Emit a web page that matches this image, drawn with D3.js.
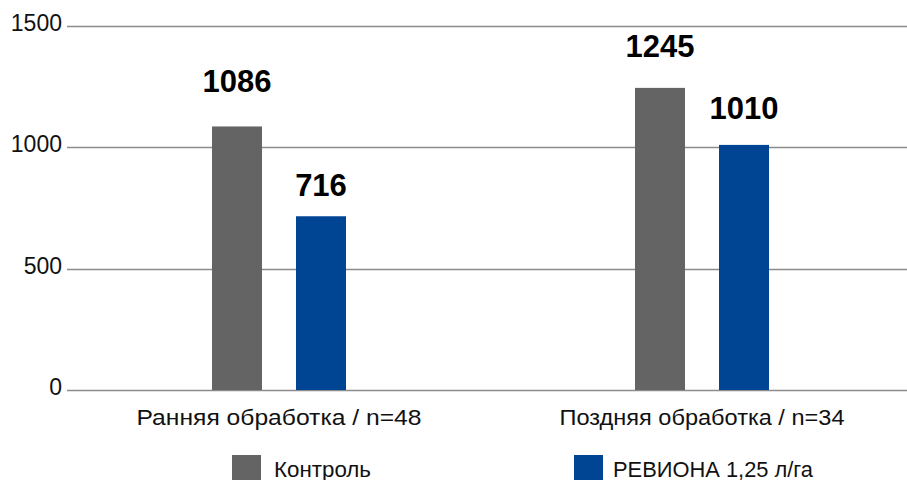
<!DOCTYPE html>
<html>
<head>
<meta charset="utf-8">
<script src="https://cdn.jsdelivr.net/npm/d3@7"></script>
<style>
  html, body { margin: 0; padding: 0; background: #fff; }
  svg { display: block; font-family: "Liberation Sans", Arial, Helvetica, sans-serif; }
</style>
</head>
<body>
<svg id="chart" width="907" height="480"></svg>
<script>
// Chart data
const categories = ["Ранняя обработка / n=48", "Поздняя обработка / n=34"];
const seriesNames = ["Контроль", "РЕВИОНА 1,25 л/га"];
const controlValues = [1086, 1245];
const revionaValues = [716, 1010];
const yTicks = [0, 500, 1000, 1500];

// Styling / layout
const colors = ["#646464", "#004494"];
// distance between a bar top and its value label baseline, per series / category
const labelGap = [[34, 31], [20, 26]];
// rendered widths of the category and legend captions
const categoryWidth = 285;
const legendWidths = [97, 200];

const svg = d3.select("#chart");
const W = 907;
const plotLeft = 67.5, plotRight = 913.5, plotTop = 26, plotBottom = 390;

const values = [controlValues, revionaValues];

const y = d3.scaleLinear().domain([0, 1500]).range([plotBottom, plotTop]);
const x0 = d3.scaleBand().domain(categories).range([plotLeft, plotRight]).padding(0);
const x1 = d3.scaleBand().domain(seriesNames).range([-67, 67]).paddingInner(0.405).paddingOuter(0);

// gridlines
svg.append("g").selectAll("line").data(yTicks).join("line")
  .attr("x1", 67).attr("x2", W)
  .attr("y1", d => Math.round(y(d)) + 0.5).attr("y2", d => Math.round(y(d)) + 0.5)
  .attr("stroke", "#8c8c8c").attr("stroke-width", 1.4);

// y axis labels
svg.append("g").selectAll("text").data(yTicks).join("text")
  .attr("x", 62).attr("y", d => y(d) + 5)
  .attr("text-anchor", "end")
  .attr("font-size", 23).attr("fill", "#111")
  .text(d => d);

// bars and value labels
const groups = svg.append("g").selectAll("g").data(categories).join("g")
  .attr("transform", c => `translate(${x0(c) + x0.bandwidth() / 2},0)`);

groups.each(function (c, ci) {
  const g = d3.select(this);
  seriesNames.forEach((s, si) => {
    const v = values[si][ci];
    g.append("rect")
      .attr("x", x1(s)).attr("width", x1.bandwidth())
      .attr("y", y(v)).attr("height", y(0) - y(v))
      .attr("fill", colors[si]);
    g.append("text")
      .attr("x", x1(s) + x1.bandwidth() / 2)
      .attr("y", y(v) - labelGap[si][ci])
      .attr("text-anchor", "middle")
      .attr("font-size", 31).attr("font-weight", "bold").attr("fill", "#000")
      .text(v);
  });
});

// category labels
svg.append("g").selectAll("text").data(categories).join("text")
  .attr("x", c => x0(c) + x0.bandwidth() / 2)
  .attr("y", 424.5)
  .attr("text-anchor", "middle")
  .attr("font-size", 22).attr("fill", "#111")
  .attr("textLength", categoryWidth).attr("lengthAdjust", "spacingAndGlyphs")
  .text(c => c);

// legend
const legendX = [232, 574];
const legend = svg.append("g").selectAll("g").data(seriesNames).join("g")
  .attr("transform", (d, i) => `translate(${legendX[i]},455)`);
legend.append("rect").attr("width", 29).attr("height", 25).attr("fill", (d, i) => colors[i]);
legend.append("text").attr("x", (d, i) => i === 0 ? 42 : 39).attr("y", 21.5)
  .attr("font-size", 22).attr("fill", "#111")
  .attr("textLength", (d, i) => legendWidths[i]).attr("lengthAdjust", "spacingAndGlyphs")
  .text(d => d);
</script>
</body>
</html>
